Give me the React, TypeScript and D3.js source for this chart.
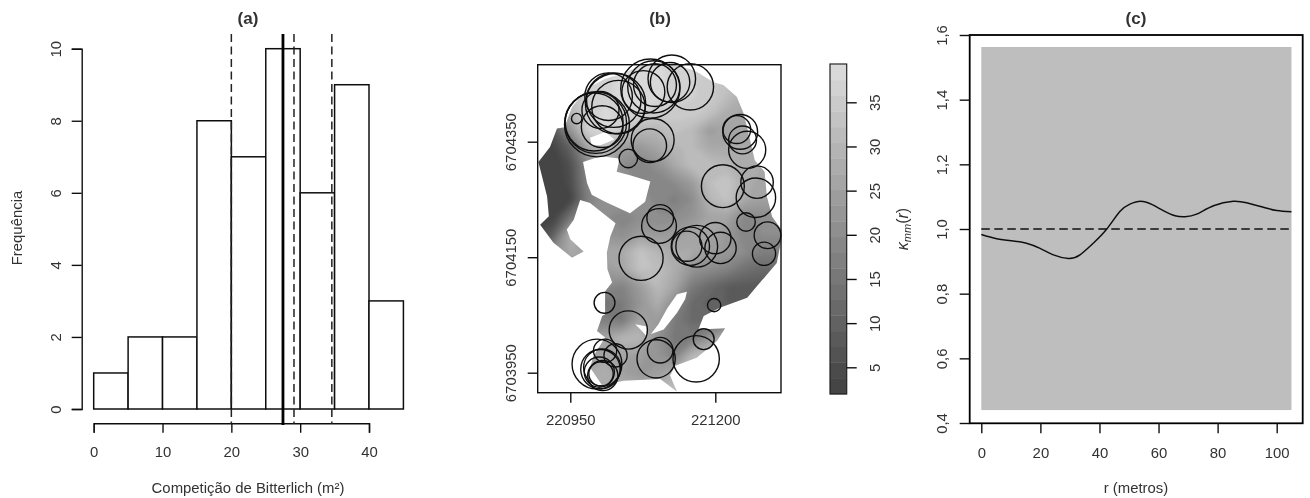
import React, { useEffect, useRef } from 'react';
import * as d3 from 'd3';

// (a) histogram
const binEdges = [0, 5, 10, 15, 20, 25, 30, 35, 40, 45];
const binCounts = [1, 2, 2, 8, 7, 10, 6, 9, 3];
const meanLine = 27.5;
const dashedLines = [20, 29.1, 34.6];
const histXTicks = [0, 10, 20, 30, 40];
const histYTicks = [0, 2, 4, 6, 8, 10];

// (b) map, UTM coordinates
const gridEast = [220890, 220920, 220950, 220980, 221010, 221040, 221070, 221100, 221130, 221160, 221190, 221220, 221250, 221280, 221310];
const gridNorth = [6704490, 6704460, 6704430, 6704400, 6704370, 6704340, 6704310, 6704280, 6704250, 6704220, 6704190, 6704160, 6704130, 6704100, 6704070, 6704040, 6704010, 6703980, 6703950, 6703920];
const gridValues = [
  [34, 34, 34, 36, 37, 38, 38, 38, 37, 36, 34, 33, 30, 28, 28],
  [34, 34, 34, 36, 37, 38, 38, 38, 37, 36, 35, 33, 30, 28, 28],
  [30, 30, 32, 36, 37, 38, 38, 38, 37, 36, 35, 32, 28, 26, 26],
  [14, 18, 30, 36, 38, 37, 38, 36, 35, 35, 33, 28, 26, 25, 25],
  [4, 7, 22, 36, 38, 35, 30, 30, 33, 31, 24, 26, 26, 26, 26],
  [2, 3, 10, 26, 33, 24, 23, 26, 30, 31, 27, 27, 27, 26, 26],
  [1, 1, 6, 19, 26, 20, 18, 21, 27, 32, 32, 30, 27, 27, 27],
  [1, 1, 5, 18, 25, 22, 19, 18, 20, 24, 32, 34, 28, 26, 26],
  [1, 1, 3, 17, 22, 21, 21, 19, 17, 20, 30, 33, 27, 25, 25],
  [2, 2, 14, 20, 20, 19, 20, 20, 20, 22, 26, 26, 19, 20, 20],
  [4, 9, 28, 26, 22, 20, 24, 23, 24, 26, 26, 23, 18, 20, 20],
  [5, 20, 27, 26, 26, 27, 33, 30, 27, 27, 24, 23, 20, 17, 17],
  [18, 20, 26, 24, 24, 26, 33, 32, 28, 22, 20, 18, 14, 12, 12],
  [18, 20, 24, 22, 20, 18, 24, 31, 26, 16, 12, 9, 8, 8, 8],
  [16, 18, 20, 16, 14, 16, 22, 28, 20, 12, 10, 9, 8, 8, 8],
  [16, 18, 20, 18, 17, 16, 26, 24, 16, 12, 12, 14, 14, 14, 14],
  [20, 20, 22, 24, 26, 30, 30, 22, 15, 16, 22, 30, 30, 30, 30],
  [24, 24, 24, 24, 26, 26, 24, 22, 18, 30, 34, 34, 34, 34, 34],
  [24, 24, 26, 27, 28, 25, 23, 24, 28, 34, 34, 34, 34, 34, 34],
  [26, 26, 28, 28, 28, 28, 28, 30, 32, 34, 34, 34, 34, 34, 34],
];
const plotOutline = [
  [220940, 6704375], [220953, 6704410], [220979, 6704442], [221010, 6704459], [221042, 6704468], [221071, 6704482],
  [221117, 6704485], [221163, 6704474], [221197, 6704453], [221214, 6704448], [221237, 6704428], [221249, 6704399],
  [221260, 6704353], [221268, 6704318], [221285, 6704298], [221289, 6704255], [221298, 6704220], [221314, 6704198], [221314, 6704181],
  [221306, 6704140], [221272, 6704100], [221255, 6704080], [221209, 6704063], [221180, 6704048], [221171, 6704025],
  [221217, 6704027], [221203, 6704005], [221168, 6703976], [221131, 6703962], [221122, 6703945], [221134, 6703917],
  [221117, 6703930], [221105, 6703939], [221042, 6703936], [221005, 6703928], [220984, 6703959], [220990, 6703979],
  [221010, 6704011], [220996, 6704022], [221005, 6704048], [221010, 6704051], [221010, 6704091], [221022, 6704106],
  [221014, 6704129], [221013, 6704158], [221019, 6704186], [221028, 6704209], [220984, 6704244], [220967, 6704249],
  [220956, 6704215], [220944, 6704198], [220950, 6704181], [220973, 6704160], [220953, 6704149], [220921, 6704175],
  [220898, 6704206], [220913, 6704221], [220910, 6704255], [220895, 6704315], [220915, 6704341], [220927, 6704373],
];
const plotHoles = [
  [[220972, 6704315], [220979, 6704278], [220987, 6704258], [221010, 6704246], [221053, 6704226], [221079, 6704246],
   [221088, 6704281], [221053, 6704292], [221030, 6704298], [221035, 6704321], [221002, 6704325]],
  [[220984, 6704357], [221010, 6704367], [221026, 6704354], [221002, 6704344], [220987, 6704344]],
  [[221151, 6704090], [221134, 6704086], [221117, 6704061], [221102, 6704034], [221089, 6704017], [221111, 6704025],
   [221134, 6704054], [221148, 6704077]],
  [[221062, 6704034], [221082, 6704030], [221081, 6704014], [221071, 6704025]],
];
// east, north, radius
const trees = [
  [220961, 6704390, 9], [220996, 6704380, 56], [220994, 6704383, 53], [220991, 6704384, 50], [221005, 6704376, 36],
  [221002, 6704405, 32], [221028, 6704416, 52], [221025, 6704422, 47], [221016, 6704428, 41], [221033, 6704410, 46],
  [221088, 6704442, 51], [221094, 6704445, 45], [221096, 6704448, 37], [221076, 6704436, 37], [221125, 6704459, 41],
  [221122, 6704453, 34], [221157, 6704445, 40], [221092, 6704353, 37], [221087, 6704343, 29], [221050, 6704321, 16],
  [221237, 6704371, 24], [221243, 6704367, 30], [221255, 6704336, 32], [221247, 6704353, 24], [221213, 6704273, 37],
  [221272, 6704280, 28], [221270, 6704253, 34], [221253, 6704211, 16], [221103, 6704204, 30], [221105, 6704218, 23],
  [221072, 6704148, 38], [221168, 6704169, 36], [221151, 6704169, 26], [221157, 6704169, 33], [221200, 6704183, 27],
  [221209, 6704166, 27], [221290, 6704188, 23], [221284, 6704156, 20], [221009, 6704071, 18], [221198, 6704067, 11.5],
  [221050, 6704024, 33], [221180, 6704008, 18], [221167, 6703974, 40], [221098, 6703974, 33], [221105, 6703989, 22],
  [221010, 6703988, 20], [221028, 6703980, 20], [220996, 6703965, 43], [221005, 6703959, 32], [221002, 6703956, 34],
  [221000, 6703951, 26], [221003, 6703948, 21], [221006, 6703945, 26],
];
const mapXTicks = [220950, 221200];
const mapYTicks = [6703950, 6704150, 6704350];
const legendTicks = [5, 10, 15, 20, 25, 30, 35];
const legendRange = [2, 39.3];
const legendBands = 21;

// (c) K function
const kR = [0, 5.2, 10.8, 15.3, 19.9, 24.4, 29.5, 33.4, 37.9, 42.4, 46.9, 50.3, 53.9, 57.7, 61.6, 65.6, 69, 72.9, 78.6, 85.3, 89.8, 95.5, 100, 105];
const kValues = [0.983, 0.97, 0.963, 0.956, 0.94, 0.92, 0.909, 0.92, 0.956, 0.999, 1.054, 1.077, 1.086, 1.076, 1.057, 1.041, 1.038, 1.046, 1.072, 1.086, 1.081, 1.067, 1.057, 1.053];
const envelope = [0.44, 1.563];
const kXTicks = [0, 20, 40, 60, 80, 100];
const kYTicks = [0.4, 0.6, 0.8, 1.0, 1.2, 1.4, 1.6];

const FONT = '"Liberation Sans", Arial, sans-serif';
const TICK_SIZE = 14.9;

function styleAxis(g: any, rotate: boolean, labelOffset: number) {
  g.selectAll('.domain').attr('stroke', '#111').attr('stroke-width', 1.4);
  g.selectAll('.tick line').attr('stroke', '#111').attr('stroke-width', 1.4);
  g.selectAll('.tick text').attr('font-family', FONT).attr('font-size', TICK_SIZE).attr('fill', '#333');
  if (rotate) {
    g.selectAll('.tick text')
      .attr('x', null).attr('dy', null)
      .attr('transform', `translate(${labelOffset},0) rotate(-90)`)
      .attr('text-anchor', 'middle')
      .attr('y', 0);
  }
}

function addText(svg: any, x: number, y: number, label: string, opts: any = {}) {
  const t = svg.append('text')
    .attr('x', opts.rotate ? 0 : x)
    .attr('y', opts.rotate ? 0 : y)
    .attr('text-anchor', 'middle')
    .attr('font-family', FONT)
    .attr('font-size', opts.size ?? TICK_SIZE)
    .attr('font-weight', opts.weight ?? 'normal')
    .attr('fill', opts.fill ?? '#333')
    .text(label);
  if (opts.rotate) t.attr('transform', `translate(${x},${y}) rotate(-90)`);
  return t;
}

export default function App() {
  const ref = useRef<SVGSVGElement>(null);

  useEffect(() => {
    const root = d3.select(ref.current);
    root.selectAll('*').remove();
    const defs = root.append('defs');
    defs.append('filter').attr('id', 'soft')
      .attr('x', 0).attr('y', 0).attr('width', 1).attr('height', 1)
      .append('feGaussianBlur').attr('stdDeviation', 0.55);
    defs.append('filter').attr('id', 'field-blur')
      .attr('x', -0.1).attr('y', -0.1).attr('width', 1.2).attr('height', 1.2)
      .append('feGaussianBlur').attr('stdDeviation', 2.2);
    const svg = root.append('g').attr('filter', 'url(#soft)');
    svg.append('rect').attr('width', 1310).attr('height', 498).attr('fill', '#fff');

    // panel a
    const xA = d3.scaleLinear().domain([0, 40]).range([93.7, 369]);
    const yA = d3.scaleLinear().domain([0, 10]).range([409, 48.7]);
    svg.append('g').selectAll('rect').data(binCounts).join('rect')
      .attr('x', (_, i) => xA(binEdges[i]))
      .attr('y', d => yA(d))
      .attr('width', (_, i) => xA(binEdges[i + 1]) - xA(binEdges[i]))
      .attr('height', d => yA(0) - yA(d))
      .attr('fill', '#fff').attr('stroke', '#111').attr('stroke-width', 1.5);
    svg.append('g').attr('transform', 'translate(0,423.3)')
      .call(d3.axisBottom(xA).tickValues(histXTicks).tickSizeOuter(0).tickSize(9.5).tickPadding(14) as any)
      .call((g: any) => styleAxis(g, false, 0));
    svg.append('g').attr('transform', 'translate(81.7,0)')
      .call(d3.axisLeft(yA).tickValues(histYTicks).tickSizeOuter(0).tickSize(10) as any)
      .call((g: any) => styleAxis(g, true, -21));
    svg.append('g').selectAll('line').data(dashedLines).join('line')
      .attr('x1', d => xA(d)).attr('x2', d => xA(d))
      .attr('y1', 34).attr('y2', 424)
      .attr('stroke', '#222').attr('stroke-width', 1.5).attr('stroke-dasharray', '8 4.5');
    svg.append('line')
      .attr('x1', xA(meanLine)).attr('x2', xA(meanLine))
      .attr('y1', 34).attr('y2', 425)
      .attr('stroke', '#000').attr('stroke-width', 2.8);
    addText(svg, 248, 23.5, '(a)', { weight: 'bold', size: 17 });
    addText(svg, 248, 493, 'Competição de Bitterlich (m²)');
    addText(svg, 22, 228, 'Frequência', { rotate: true });

    // panel b
    const xB = d3.scaleLinear().domain(mapXTicks).range([570.3, 715.3]);
    const yB = d3.scaleLinear().domain([6703950, 6704350]).range([372.7, 141.7]);
    const grey = d3.scaleLinear<string>().domain(legendRange).range(['#404040', '#dddddd']);
    const step = (legendRange[1] - legendRange[0]) / legendBands;
    const levels = d3.range(legendBands).map(i => legendRange[0] + i * step);

    const east0 = gridEast[0], eastStep = gridEast[1] - gridEast[0];
    const north0 = gridNorth[0], northStep = gridNorth[1] - gridNorth[0];
    const gridToScreen = d3.geoTransform({
      point(px: number, py: number) {
        this.stream.point(xB(east0 + (px - 0.5) * eastStep), yB(north0 + (py - 0.5) * northStep));
      },
    });
    const contourPath = d3.geoPath(gridToScreen);
    // the lowest band also takes the few cells under the legend's minimum
    const contours = d3.contours()
      .size([gridEast.length, gridNorth.length])
      .thresholds([0, ...levels.slice(1)])(gridValues.flat());

    const ringPath = d3.line<number[]>().x(d => xB(d[0])).y(d => yB(d[1])).curve(d3.curveLinearClosed);
    defs.append('clipPath').attr('id', 'plot-mask')
      .append('path')
      .attr('clip-rule', 'evenodd')
      .attr('d', [plotOutline, ...plotHoles].map(r => ringPath(r)).join(' '));

    svg.append('g').attr('clip-path', 'url(#plot-mask)')
      .append('g').attr('filter', 'url(#field-blur)')
      .selectAll('path').data(contours).join('path')
      .attr('d', d => contourPath(d as any))
      .attr('fill', (d: any) => grey(Math.max(d.value, legendRange[0]) + step / 2));

    svg.append('g').selectAll('circle').data(trees).join('circle')
      .attr('cx', d => xB(d[0])).attr('cy', d => yB(d[1]))
      .attr('r', d => xB(d[2]) - xB(0))
      .attr('fill', 'none').attr('stroke', '#111').attr('stroke-width', 1.4);

    svg.append('rect').attr('x', 537.7).attr('y', 64.7).attr('width', 243.3).attr('height', 328)
      .attr('fill', 'none').attr('stroke', '#111').attr('stroke-width', 1.4);
    svg.append('g').attr('transform', 'translate(0,392.7)')
      .call(d3.axisBottom(xB).tickValues(mapXTicks).tickSizeOuter(0).tickSize(10).tickPadding(12).tickFormat(d3.format('d') as any) as any)
      .call((g: any) => { styleAxis(g, false, 0); g.select('.domain').remove(); });
    svg.append('g').attr('transform', 'translate(537.7,0)')
      .call(d3.axisLeft(yB).tickValues(mapYTicks).tickSizeOuter(0).tickSize(10).tickFormat(d3.format('d') as any) as any)
      .call((g: any) => { styleAxis(g, true, -22); g.select('.domain').remove(); });
    addText(svg, 660, 23.5, '(b)', { weight: 'bold', size: 17 });

    // legend
    const yL = d3.scaleLinear().domain([5, 35]).range([367.3, 102.3]);
    svg.append('g').selectAll('rect').data(levels).join('rect')
      .attr('x', 830).attr('width', 16.7)
      .attr('y', d => yL(d + step))
      .attr('height', yL(0) - yL(step) + 0.4)
      .attr('fill', d => grey(d + step / 2));
    svg.append('rect').attr('x', 830).attr('y', 64).attr('width', 16.7).attr('height', 330)
      .attr('fill', 'none').attr('stroke', '#222').attr('stroke-width', 1.2);
    svg.append('g').attr('transform', 'translate(846.7,0)')
      .call(d3.axisRight(yL).tickValues(legendTicks).tickSizeOuter(0).tickSize(10) as any)
      .call((g: any) => { styleAxis(g, true, 33.6); g.select('.domain').remove(); });
    const kLabel = addText(svg, 908, 229, '', { rotate: true, size: 16 });
    kLabel.append('tspan').attr('font-style', 'italic').text('κ');
    kLabel.append('tspan').attr('font-style', 'italic').attr('font-size', 11).attr('dy', 3).text('mm');
    kLabel.append('tspan').attr('dy', -3).text('(');
    kLabel.append('tspan').attr('font-style', 'italic').text('r');
    kLabel.append('tspan').text(')');

    // panel c
    const xC = d3.scaleLinear().domain([0, 100]).range([981.3, 1276.7]);
    const yC = d3.scaleLinear().domain([0.4, 1.6]).range([423, 35]);
    svg.append('rect')
      .attr('x', xC(0)).attr('width', xC(105) - xC(0))
      .attr('y', yC(envelope[1])).attr('height', yC(envelope[0]) - yC(envelope[1]))
      .attr('fill', '#bebebe');
    const kLine = d3.line<number>().x((_, i) => xC(kR[i])).y(d => yC(d)).curve(d3.curveNatural);
    svg.append('path').attr('d', kLine(kValues))
      .attr('fill', 'none').attr('stroke', '#111').attr('stroke-width', 1.5);
    svg.append('line').attr('x1', xC(0)).attr('x2', xC(105)).attr('y1', yC(1)).attr('y2', yC(1))
      .attr('stroke', '#111').attr('stroke-width', 1.5).attr('stroke-dasharray', '8.5 4.5');
    svg.append('rect').attr('x', 969.7).attr('y', 35).attr('width', 333).attr('height', 388.3)
      .attr('fill', 'none').attr('stroke', '#000').attr('stroke-width', 1.8);
    svg.append('g').attr('transform', 'translate(0,423.3)')
      .call(d3.axisBottom(xC).tickValues(kXTicks).tickSizeOuter(0).tickSize(10).tickPadding(14) as any)
      .call((g: any) => { styleAxis(g, false, 0); g.select('.domain').remove(); });
    svg.append('g').attr('transform', 'translate(969.7,0)')
      .call(d3.axisLeft(yC).tickValues(kYTicks).tickSizeOuter(0).tickSize(10)
        .tickFormat((d: any) => d.toFixed(1).replace('.', ',')) as any)
      .call((g: any) => { styleAxis(g, true, -22.7); g.select('.domain').remove(); });
    addText(svg, 1136, 23.5, '(c)', { weight: 'bold', size: 17 });
    addText(svg, 1136, 493, 'r (metros)');
  }, []);

  return <svg ref={ref} width={1310} height={498} style={{ position: 'absolute', left: 0, top: 0 }} />;
}
